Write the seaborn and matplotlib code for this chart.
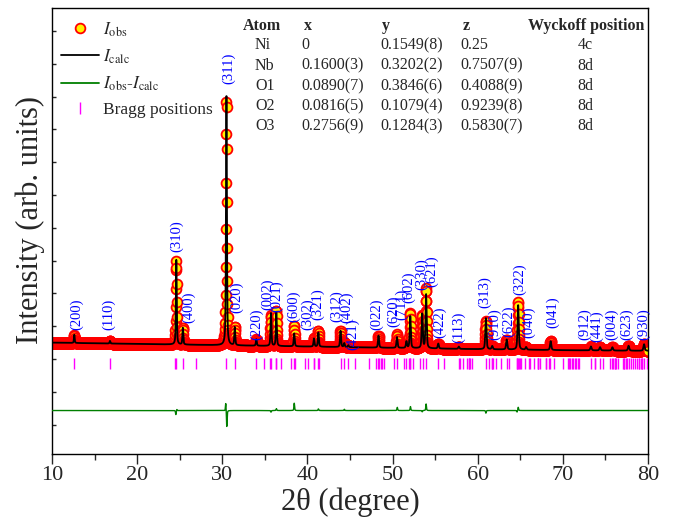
import numpy as np
import matplotlib
matplotlib.use('Agg')
import matplotlib.pyplot as plt
import seaborn as sns
from matplotlib.lines import Line2D

# ---------------- data ----------------
peak_pos = [12.62, 16.81, 24.60, 25.37, 30.49, 31.47, 34.00, 35.72, 36.35, 38.45,
            40.77, 41.29, 43.89, 44.33, 44.80, 48.35, 50.52, 51.63, 52.08, 53.48,
            53.94, 55.37, 57.78, 60.96, 61.70, 63.40, 64.75, 65.68, 68.57, 73.30,
            74.37, 75.82, 77.72, 79.54]
peak_height = [0.25, 0.08, 2.58, 0.52, 7.76, 0.56, 0.20, 1.00, 1.04, 0.40,
               0.25, 0.44, 0.50, 0.12, 0.06, 0.37, 0.33, 0.20, 0.97, 1.04,
               1.64, 0.15, 0.07, 0.95, 0.10, 0.30, 1.37, 0.08, 0.27, 0.12,
               0.10, 0.10, 0.15, 0.20]
bg_tt = [10, 20, 30, 40, 50, 60, 70, 80]
bg_int = [2.50, 2.46, 2.42, 2.38, 2.34, 2.30, 2.27, 2.25]
diff_pos = [24.55, 24.66, 30.41, 30.53, 35.72, 36.35, 38.45, 41.29, 44.33, 50.55,
            52.10, 53.48, 53.94, 60.96, 64.62, 64.76]
diff_amp = [-0.13, 0.04, 0.25, -0.52, -0.05, 0.06, 0.23, 0.05, 0.04, 0.10,
            0.12, -0.04, 0.20, -0.08, -0.05, 0.10]

bragg_pos = [12.61, 16.81, 24.47, 24.62, 25.37, 26.86, 30.46, 31.44, 33.99, 34.94,
             35.65, 35.75, 36.28, 36.34, 36.86, 38.05, 38.46, 38.56, 39.75, 40.05,
             40.77, 40.82, 41.25, 41.34, 43.89, 44.35, 44.79, 45.64, 47.28, 48.09,
             48.33, 48.41, 48.63, 48.79, 49.05, 50.16, 50.49, 51.38, 51.62, 51.93,
             52.01, 52.10, 52.37, 53.23, 53.52, 53.90, 55.36, 56.09, 57.77, 57.96,
             58.25, 58.73, 58.92, 58.99, 59.06, 59.28, 60.98, 61.34, 61.62, 61.63,
             61.84, 62.13, 62.79, 63.40, 63.71, 64.58, 64.66, 64.72, 64.80, 64.96,
             65.14, 65.61, 66.07, 66.10, 66.59, 67.10, 67.12, 67.13, 67.36, 67.98,
             68.01, 68.32, 68.54, 68.91, 70.02, 70.56, 70.69, 70.89, 71.13, 71.20,
             71.46, 71.55, 71.73, 71.85, 73.34, 73.80, 73.83, 74.37, 74.67, 75.49,
             75.75, 75.88, 76.10, 76.13, 76.30, 76.47, 77.03, 77.17, 77.19, 77.38,
             77.58, 77.75, 77.95, 78.26, 78.44, 78.70, 78.93, 78.96, 79.23, 79.28,
             79.31, 79.54, 79.83]

hkl_labels = ['(200)', '(110)', '(310)', '(400)', '(311)', '(020)', '(220)', '(002)', '(021)', '(600)',
              '(302)', '(321)', '(312)', '(402)', '(421)', '(022)', '(620)', '(711)', '(602)', '(330)',
              '(621)', '(422)', '(113)', '(313)', '(910)', '(622)', '(322)', '(040)', '(041)', '(912)',
              '(441)', '(004)', '(623)', '(930)']
label_tt = [12.90, 16.61, 24.61, 26.09, 30.71, 31.69, 34.04, 35.37, 36.39, 38.34,
            40.07, 41.24, 43.44, 44.61, 45.35, 48.14, 50.09, 51.07, 51.85, 53.42,
            54.60, 55.57, 57.72, 60.86, 62.03, 63.59, 64.97, 65.94, 68.81, 72.60,
            73.98, 75.74, 77.50, 79.45]
label_y = [2.89, 2.89, 5.27, 3.11, 10.39, 3.41, 2.59, 3.50, 3.44, 3.14,
           2.89, 3.20, 3.14, 3.11, 2.28, 2.89, 2.99, 3.20, 3.72, 4.11,
           4.20, 2.65, 2.50, 3.56, 2.59, 2.68, 3.96, 2.65, 2.95, 2.59,
           2.53, 2.59, 2.59, 2.59]

atoms = ['Ni', 'Nb', 'O1', 'O2', 'O3']
x_coord = ['0', '0.1600(3)', '0.0890(7)', '0.0816(5)', '0.2756(9)']
y_coord = ['0.1549(8)', '0.3202(2)', '0.3846(6)', '0.1079(4)', '0.1284(3)']
z_coord = ['0.25', '0.7507(9)', '0.4088(9)', '0.9239(8)', '0.5830(7)']
wyckoff = ['4c', '8d', '8d', '8d', '8d']

# ---------------- profile ----------------
tt = np.arange(10, 80.0001, 0.02)
bg = np.interp(tt, bg_tt, bg_int)


def pv(x, c0, h, fwhm, eta=0.5):
    u = (x - c0) / fwhm
    return h * (eta / (1 + 4*u*u) + (1 - eta) * np.exp(-4*np.log(2)*u*u))


calc = bg.copy()
for p, h in zip(peak_pos, peak_height):
    calc += pv(tt, p, h, 0.10 + 0.0012*(p - 10))
diff = np.zeros_like(tt)
for p, h in zip(diff_pos, diff_amp):
    diff += pv(tt, p, h, 0.09)
obs = calc + diff
diff_offset = 0.43

# ---------------- figure ----------------
sns.set_theme(style='ticks')
plt.rcParams.update({
    'font.family': ['Liberation Serif', 'DejaVu Serif'],
    'mathtext.fontset': 'stix',
    'axes.linewidth': 1.0,
    'axes.edgecolor': 'black',
})
W, H = 674, 523
fig = plt.figure(figsize=(W/100, H/100), dpi=100)
ax = fig.add_axes([52/W, 1-453.5/H, 596/W, 445.5/H])

sns.scatterplot(x=tt, y=obs, ax=ax, marker='o', s=50, color='#FFF000',
                edgecolor='#FF0000', linewidth=1.3, legend=False, zorder=2)
sns.lineplot(x=tt, y=calc, ax=ax, color='black', lw=1.3, sort=False, estimator=None, zorder=3)
sns.lineplot(x=tt, y=diff + diff_offset, ax=ax, color='#007F00', lw=1.0, sort=False, estimator=None, zorder=3)
ax.vlines(bragg_pos, 1.71, 2.04, color='#FF00FF', lw=1.0, zorder=3)

for t, yv, s in zip(label_tt, label_y, hkl_labels):
    ax.text(t, yv, s, rotation=90, ha='center', va='bottom', color='#0000FF', fontsize=10.5, zorder=4)

ax.set_xlim(10, 80)
ax.set_ylim(-0.88, 12.70)
ax.set_xticks(np.arange(10, 81, 10))
ax.set_xticks(np.arange(15, 80, 10), minor=True)
ax.set_yticks(np.arange(0, 13, 1))
ax.set_yticklabels([])
ax.tick_params(axis='x', which='major', direction='out', length=7, width=1, labelsize=16, pad=2)
ax.tick_params(axis='x', which='minor', direction='out', length=4.5, width=1)
ax.tick_params(axis='y', which='major', direction='in', length=3, width=1)
for sp in ax.spines.values():
    sp.set_visible(True)
    sp.set_color('black')
ax.set_xlabel('2θ (degree)', fontsize=22, labelpad=2)
ax.set_ylabel('Intensity (arb. units)', fontsize=22)
ax.yaxis.set_label_coords(-0.012, 0.524)

handles = [Line2D([], [], ls='none', marker='o', ms=7, mfc='#FFF000', mec='#FF0000', mew=1.3),
           Line2D([], [], color='black', lw=1.3),
           Line2D([], [], color='#007F00', lw=1.3),
           Line2D([], [], ls='none', marker='|', ms=9, mec='#FF00FF', mew=1.0)]
labels = [r'$I_{\mathrm{obs}}$', r'$I_{\mathrm{calc}}$',
          r'$I_{\mathrm{obs}}$-$I_{\mathrm{calc}}$', 'Bragg positions']
ax.legend(handles, labels, loc='upper left', bbox_to_anchor=(0.0146, 0.972), frameon=False,
          fontsize=12.5, handlelength=2.2, handletextpad=0.25, labelspacing=0.5,
          borderaxespad=0, borderpad=0)


def ftxt(px, py, s, **kw):
    fig.text(px/W, 1 - py/H, s, va='center', fontsize=11.5, **kw)


ftxt(243, 26, 'Atom', fontweight='bold')
ftxt(304, 26, 'x', fontweight='bold')
ftxt(381.5, 26, 'y', fontweight='bold')
ftxt(463, 26, 'z', fontweight='bold')
ftxt(528, 26, 'Wyckoff position', fontweight='bold')
row_y = [45, 65.5, 86, 106.5, 126]
for i in range(5):
    ftxt(255, row_y[i], atoms[i])
    ftxt(301.5, row_y[i], x_coord[i])
    ftxt(380.5, row_y[i], y_coord[i])
    ftxt(460, row_y[i], z_coord[i])
    ftxt(585, row_y[i], wyckoff[i], ha='center')

fig.savefig('out.png', dpi=100)
